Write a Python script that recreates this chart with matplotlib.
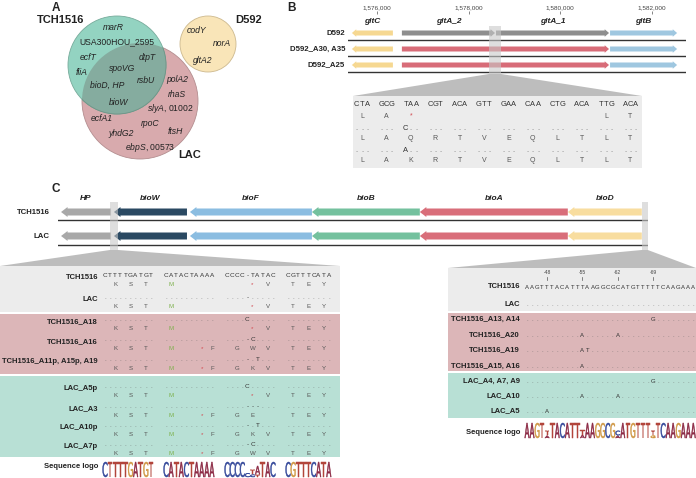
import matplotlib
matplotlib.use('Agg')
import matplotlib.pyplot as plt
from matplotlib.patches import Circle, Rectangle, Polygon, PathPatch
from matplotlib.textpath import TextPath
from matplotlib.font_manager import FontProperties
from matplotlib.transforms import Affine2D
from matplotlib.ticker import FuncFormatter

plt.rcParams['font.family'] = ['Liberation Sans', 'DejaVu Sans']
plt.rcParams['mathtext.fontset'] = 'custom'
plt.rcParams['mathtext.it'] = 'Liberation Sans:italic'
plt.rcParams['mathtext.rm'] = 'Liberation Sans'
plt.rcParams['mathtext.bf'] = 'Liberation Sans:bold'

# ======================= DATA =======================
# Panel A - Venn diagram
venn_names = ['TCH1516', 'LAC', 'D592']
venn_tch_only = ['marR', 'USA300HOU_2595', 'ecfT', 'fliA']
venn_shared = ['dtpT', 'spoVG', 'bioD, HP', 'rsbU', 'bioW']
venn_lac_only = ['polA2', 'rhaS', 'slyA, 01002', 'ecfA1', 'rpoC', 'yhdG2', 'ftsH', 'ebpS, 00573']
venn_d592_only = ['codY', 'norA', 'gltA2']

# Panel B - gltA locus
b_strains = ['D592', 'D592_A30, A35', 'D592_A25']
b_gene_names = ['gltC', 'gltA_2', 'gltA_1', 'gltB']
b_gene_start = [1575455, 1576545, 1578597, 1581084]
b_gene_end = [1576349, 1578575, 1581062, 1582546]
b_gene_strand = [-1, 1, 1, 1]
b_gene_kind = ['gltC', 'gltA', 'gltA', 'gltB']
b_mutant_fused = [False, True, True]          # gltA_2 + gltA_1 fused in mutants
b_ticks = [1576000, 1578000, 1580000, 1582000]
b_window = [1578444, 1578706]
b_codons = ['CTA', 'GCG', 'TAA', 'CGT', 'ACA', 'GTT', 'GAA', 'CAA', 'CTG', 'ACA', 'TTG', 'ACA']
b_ref_aa = ['L', 'A', '*', '', '', '', '', '', '', '', 'L', 'T']
b_mut_codon_idx = [2, 2]
b_mut_codon_txt = ['C..', 'A..']
b_mut_aa = [['L', 'A', 'Q', 'R', 'T', 'V', 'E', 'Q', 'L', 'T', 'L', 'T'],
            ['L', 'A', 'K', 'R', 'T', 'V', 'E', 'Q', 'L', 'T', 'L', 'T']]

# Panel C - bio operon
c_strains = ['TCH1516', 'LAC']
c_gene_names = ['HP', 'bioW', 'bioF', 'bioB', 'bioA', 'bioD']
c_gene_start = [28, 515, 1214, 2337, 3330, 4692]
c_gene_end = [488, 1187, 2337, 3330, 4692, 5373]
c_windows = [(478, 552), (5373, 5428)]

# Panel C left alignment (bioW start region)
cl_ref_seq = 'CTTTTGATGTCATACTAAAACCCC-TATACCGTTTCATA'
cl_rows = ['TCH1516', 'LAC', 'TCH1516_A18', 'TCH1516_A16', 'TCH1516_A11p, A15p, A19',
           'LAC_A5p', 'LAC_A3', 'LAC_A10p', 'LAC_A7p']
cl_group = ['ref', 'ref', 'tch', 'tch', 'tch', 'lac', 'lac', 'lac', 'lac']
cl_changes = [None, {24: '-'}, {24: 'C'}, {24: '-', 25: 'C'}, {24: '-', 26: 'T'},
              {24: 'C'}, {24: '-', 25: '-', 26: '-'}, {24: '-', 26: 'T'}, {24: '-', 25: 'C'}]
cl_aa_cols = [2, 5, 8, 11, 17, 19, 22, 25, 28, 31, 34, 37]
cl_aa = ['KSTM   *VTEY', 'KSTM   *VTEY', 'KSTM   *VTEY', 'KSTM*FGWVTEY', 'KSTM*FGKVTEY',
         'KSTM   *VTEY', 'KSTM*FGE TEY', 'KSTM*FGKVTEY', 'KSTM*FGWVTEY']
cl_logo_var = {24: [('C', 0.25)], 25: [('C', 0.15), ('T', 0.3)], 26: [('T', 0.15), ('A', 0.55)]}

# Panel C right alignment (bioD promoter region)
cr_ref_seq = 'AAGTTTACATTTAAGGCGCATGTTTTTCAAGAAA'
cr_rows = ['TCH1516', 'LAC', 'TCH1516_A13, A14', 'TCH1516_A20', 'TCH1516_A19', 'TCH1516_A15, A16',
           'LAC_A4, A7, A9', 'LAC_A10', 'LAC_A5']
cr_group = ['ref', 'ref', 'tch', 'tch', 'tch', 'tch', 'lac', 'lac', 'lac']
cr_changes = [None, {}, {25: 'G'}, {11: 'A', 18: 'A'}, {11: 'A', 12: 'T'}, {11: 'A'},
              {25: 'G'}, {11: 'A', 18: 'A'}, {4: 'A'}]
cr_tick_idx = [4, 11, 18, 25]
cr_tick_lab = ['-48', '-55', '-62', '-69']
cr_logo_var = {4: [('A', 0.15), ('T', 0.3)], 11: [('A', 0.2), ('T', 0.3)],
               18: [('A', 0.15), ('C', 0.3)], 25: [('G', 0.15), ('T', 0.3)]}

# ======================= STYLE =======================
COL = dict(teal='#93d3c1', pink='#d8aaad', overlap='#85ac9f', yellow='#f9e5b8',
           gltC='#f6d891', gltA='#8e8e8e', gltA_mut='#d86c78', gltB='#9fc7e0',
           HP='#a8a8a8', bioW='#2a4962', bioF='#8bbde1', bioB='#74c19e', bioA='#d96e7a', bioD='#f8dd9f',
           panel_ref='#ececec', panel_tch='#dcb6b8', panel_lac='#b8e0d5', trap='#bdbdbd', box='#c8c8c8')
LOGO_COL = {'A': '#8c2a45', 'T': '#b2453b', 'G': '#d09845', 'C': '#34489a'}
LAB = '#222222'

fig = plt.figure(figsize=(6.96, 4.78), dpi=100)
ax = fig.add_axes([0, 0, 1, 1])
ax.set_xlim(0, 696)
ax.set_ylim(478, 0)
ax.axis('off')


def txt(x, y, s, size=5.5, weight='normal', style='normal', color=LAB, ha='center', va='center', a=None, **kw):
    (a or ax).text(x, y, s, fontsize=size, fontweight=weight, fontstyle=style, color=color,
                   ha=ha, va=va, **kw)


def gene_arrow(a, x0, x1, y, strand, color, h, hh, hl, z=2):
    if strand > 0:
        tail, tip = x0, x1
        base = tip - hl
    else:
        tail, tip = x1, x0
        base = tip + hl
    pts = [(tail, y - h / 2), (base, y - h / 2), (base, y - hh / 2), (tip, y),
           (base, y + hh / 2), (base, y + h / 2), (tail, y + h / 2)]
    a.add_patch(Polygon(pts, closed=True, facecolor=color, edgecolor='none', zorder=z))


def to_px(a, x, y):
    disp = a.transData.transform((x, y))
    return ax.transData.inverted().transform(disp)


LOGO_FP = FontProperties(family='DejaVu Sans')


def logo_letter(ch, xc, ybot, w, h):
    tp = TextPath((0, 0), ch, size=10, prop=LOGO_FP)
    bb = tp.get_extents()
    tr = Affine2D().translate(-bb.x0, -bb.y0).scale(w / bb.width, -h / bb.height).translate(xc - w / 2, ybot)
    ax.add_patch(PathPatch(tr.transform_path(tp), facecolor=LOGO_COL.get(ch, '#555'),
                           edgecolor=LOGO_COL.get(ch, '#555'), lw=0.35))


def draw_logo(seq, xfun, var, ybot, H, w):
    for i, ch in enumerate(seq):
        stack = var.get(i, [(ch, 1.0)])
        yb = ybot
        for letter, frac in stack:
            hgt = frac * H
            logo_letter(letter, xfun(i), yb, w, hgt)
            yb -= hgt + 0.5

# ======================= PANEL LETTERS =======================
txt(56, 8, 'A', 8.5, 'bold')
txt(292, 8, 'B', 8.5, 'bold')
txt(56, 189, 'C', 8.5, 'bold')

# ======================= PANEL A =======================
pink = Circle((140, 101), 58, facecolor=COL['pink'], edgecolor='#b48e90', lw=0.6, zorder=1)
ax.add_patch(pink)
ax.add_patch(Circle((117, 65), 49, facecolor=COL['teal'], edgecolor='#77ab9b', lw=0.6, zorder=2))
ov = Circle((117, 65), 49, facecolor=COL['overlap'], edgecolor='#6f9487', lw=0.6, zorder=3)
ax.add_patch(ov)
ov.set_clip_path(pink)
ax.add_patch(Circle((208, 44), 28, facecolor=COL['yellow'], edgecolor='#cdb98e', lw=0.6, zorder=1))

txt(61, 20, venn_names[0], 8, 'bold')
txt(190, 155, venn_names[1], 8, 'bold')
txt(249, 20, venn_names[2], 8, 'bold')

venn_pos = {'marR': (113, 27), 'USA300HOU_2595': (117, 42), 'ecfT': (88, 57), 'fliA': (82, 72),
            'dtpT': (147, 57), 'spoVG': (122, 68), 'bioD, HP': (107, 85), 'rsbU': (146, 80),
            'bioW': (119, 102), 'polA2': (177, 79), 'rhaS': (177, 94), 'slyA, 01002': (170, 108),
            'ecfA1': (102, 118), 'rpoC': (150, 123), 'yhdG2': (121, 133), 'ftsH': (175, 132),
            'ebpS, 00573': (150, 147), 'codY': (197, 30), 'norA': (222, 43), 'gltA2': (203, 60)}


def venn_label(name):
    x, y = venn_pos[name]
    if name.startswith('USA300'):
        txt(x, y, name, 6.2, zorder=5)
    elif ', 0' in name:
        g, n = name.split(', ')
        txt(x, y, r'$\it{' + g + '}$, ' + n, 6.2, zorder=5)
    else:
        txt(x, y, name, 6.2, style='italic', zorder=5)


for nm in venn_tch_only + venn_shared + venn_lac_only + venn_d592_only:
    venn_label(nm)

# ======================= PANEL B =======================
bx = fig.add_axes([348 / 696, 1 - 76 / 478, 338 / 696, 62 / 478])
bx.set_xlim(1575370, 1582740)
bx.set_ylim(76, 14)
bx.patch.set_alpha(0)
for s in bx.spines.values():
    s.set_visible(False)
bx.set_yticks([])
bx.xaxis.tick_top()
bx.set_xticks(b_ticks)
bx.xaxis.set_major_formatter(FuncFormatter(lambda v, p: f'{int(v):,}'))
bx.tick_params(axis='x', length=2, width=0.5, labelsize=4.6, pad=1, colors='#555', labelcolor='#444')

b_row_y = [33, 49, 65]
b_line_y = [40, 56, 72]
for g, s0, s1 in zip(b_gene_names, b_gene_start, b_gene_end):
    txt((s0 + s1) / 2, 22, g, 6, 'bold', 'italic', a=bx)
for r, strain in enumerate(b_strains):
    y = b_row_y[r]
    bx.axhline(b_line_y[r], color='#333', lw=1.0, zorder=1)
    txt(345, y, strain, 5.6, 'bold', ha='right')
    if b_mutant_fused[r]:
        segs = [(b_gene_start[0], b_gene_end[0], b_gene_strand[0], 'gltC'),
                (b_gene_start[1], b_gene_end[2], 1, 'gltA_mut'),
                (b_gene_start[3], b_gene_end[3], b_gene_strand[3], 'gltB')]
    else:
        segs = list(zip(b_gene_start, b_gene_end, b_gene_strand, b_gene_kind))
    for s0, s1, st, kind in segs:
        gene_arrow(bx, s0, s1, y, st, COL[kind], 5, 7.5, 95)
bx.add_patch(Rectangle((b_window[0], 26), b_window[1] - b_window[0], 48, facecolor=COL['box'],
                       edgecolor='none', alpha=0.6, zorder=4))

# zoom trapezoid + sequence panel
(wx0, wy), (wx1, _) = to_px(bx, b_window[0], 74), to_px(bx, b_window[1], 74)
ax.add_patch(Polygon([(wx0, wy), (wx1, wy), (642, 96), (353, 96)], facecolor=COL['trap'], edgecolor='none'))
ax.add_patch(Rectangle((353, 96), 289, 72, facecolor=COL['panel_ref'], edgecolor='none'))


def bx_codon_x(i):
    return 362 + i * 24.4


for i, cod in enumerate(b_codons):
    xc = bx_codon_x(i)
    for k, ch in enumerate(cod):
        txt(xc + (k - 1) * 5.2, 104, ch, 5.4, color='#333')
    if b_ref_aa[i]:
        txt(xc, 116, b_ref_aa[i], 5.0, color='#d2484f' if b_ref_aa[i] == '*' else '#555')
for m in range(2):
    ydot, yaa = [128, 150][m], [139, 161][m]
    for i in range(len(b_codons)):
        xc = bx_codon_x(i)
        cod = b_mut_codon_txt[m] if i == b_mut_codon_idx[m] else '...'
        for k, ch in enumerate(cod):
            if ch == '.':
                txt(xc + (k - 1) * 5.2, ydot + 2.2, ch, 5.4, color='#666', va='baseline')
            else:
                txt(xc + (k - 1) * 5.2, ydot, ch, 5.4, color='#333')
        txt(xc, yaa, b_mut_aa[m][i], 5.0, color='#555')

# ======================= PANEL C (gene map) =======================
cx = fig.add_axes([58 / 696, 1 - 252 / 478, 590 / 696, 60 / 478])
cx.set_xlim(0, 5430)
cx.set_ylim(252, 192)
cx.axis('off')
c_row_y = [212, 236]
c_line_y = [220, 245]
for g, s0, s1 in zip(c_gene_names, c_gene_start, c_gene_end):
    txt((s0 + s1) / 2, 198, g, 6, 'bold', 'italic', a=cx)
for r, strain in enumerate(c_strains):
    cx.axhline(c_line_y[r], color='#333', lw=1.0, zorder=1)
    txt(50, c_row_y[r], strain, 5.6, 'bold', ha='right')
    for g, s0, s1 in zip(c_gene_names, c_gene_start, c_gene_end):
        gene_arrow(cx, s0, s1, c_row_y[r], -1, COL[g], 7, 10, 60)
for w0, w1 in c_windows:
    cx.add_patch(Rectangle((w0, 202), w1 - w0, 48, facecolor=COL['box'], edgecolor='none', alpha=0.6, zorder=4))

# trapezoids
(l0, ly), (l1, _) = to_px(cx, c_windows[0][0], 250), to_px(cx, c_windows[0][1], 250)
ax.add_patch(Polygon([(l0, ly), (l1, ly), (340, 266), (0, 266)], facecolor=COL['trap'], edgecolor='none'))
(r0, ry), (r1, _) = to_px(cx, c_windows[1][0], 250), to_px(cx, c_windows[1][1], 250)
ax.add_patch(Polygon([(r0, ry), (r1, ry), (696, 268), (448, 268)], facecolor=COL['trap'], edgecolor='none'))

# ---------- left alignment ----------
ax.add_patch(Rectangle((0, 266), 340, 46, facecolor=COL['panel_ref'], edgecolor='none'))
ax.add_patch(Rectangle((0, 314), 340, 60, facecolor=COL['panel_tch'], edgecolor='none'))
ax.add_patch(Rectangle((0, 376), 340, 81, facecolor=COL['panel_lac'], edgecolor='none'))


def xl(i):
    return 105 + i * 5.1 + (i // 10) * 10


cl_y = [275, 297, 319, 339, 359, 386, 406, 425, 444]
NT = 4.6
for r, name in enumerate(cl_rows):
    ys = cl_y[r]
    txt(98, ys + 2.5, name, 5.5, 'bold', ha='right')
    ch_map = cl_changes[r]
    for i, ref in enumerate(cl_ref_seq):
        if ch_map is None:
            c = ref
        else:
            c = ch_map.get(i, '.')
        col = '#666' if c == '.' else '#333'
        txt(xl(i), ys + 2.0, c, NT, color=col, va='baseline')
    for k, aa in enumerate(cl_aa[r]):
        if aa == ' ':
            continue
        color = '#7db14d' if aa == 'M' else ('#d2484f' if aa == '*' else '#555')
        txt(xl(cl_aa_cols[k]), ys + 9.5, aa, 4.4, color=color)
txt(98, 467, 'Sequence logo', 5.5, 'bold', ha='right')
draw_logo(cl_ref_seq, xl, cl_logo_var, 477, 15, 4.8)

# ---------- right alignment ----------
ax.add_patch(Rectangle((448, 268), 248, 43, facecolor=COL['panel_ref'], edgecolor='none'))
ax.add_patch(Rectangle((448, 313), 248, 58, facecolor=COL['panel_tch'], edgecolor='none'))
ax.add_patch(Rectangle((448, 373), 248, 45, facecolor=COL['panel_lac'], edgecolor='none'))


def xr(i):
    return 527 + i * 5.04


for idx, lab in zip(cr_tick_idx, cr_tick_lab):
    txt(xr(idx), 273, lab, 3.6, color='#444')
    ax.plot([xr(idx), xr(idx)], [276.5, 280], color='#555', lw=0.5)
cr_y = [287, 304, 319, 335, 350, 366, 381, 396, 411]
for r, name in enumerate(cr_rows):
    ys = cr_y[r]
    txt(520, ys, name, 5.5, 'bold', ha='right')
    ch_map = cr_changes[r]
    for i, ref in enumerate(cr_ref_seq):
        c = ref if ch_map is None else ch_map.get(i, '.')
        col = '#666' if c == '.' else '#333'
        txt(xr(i), ys + 2.0, c, 4.3, color=col, va='baseline')
txt(520, 432, 'Sequence logo', 5.5, 'bold', ha='right')
draw_logo(cr_ref_seq, xr, cr_logo_var, 438, 15, 4.6)

fig.savefig('out.png', dpi=100)
